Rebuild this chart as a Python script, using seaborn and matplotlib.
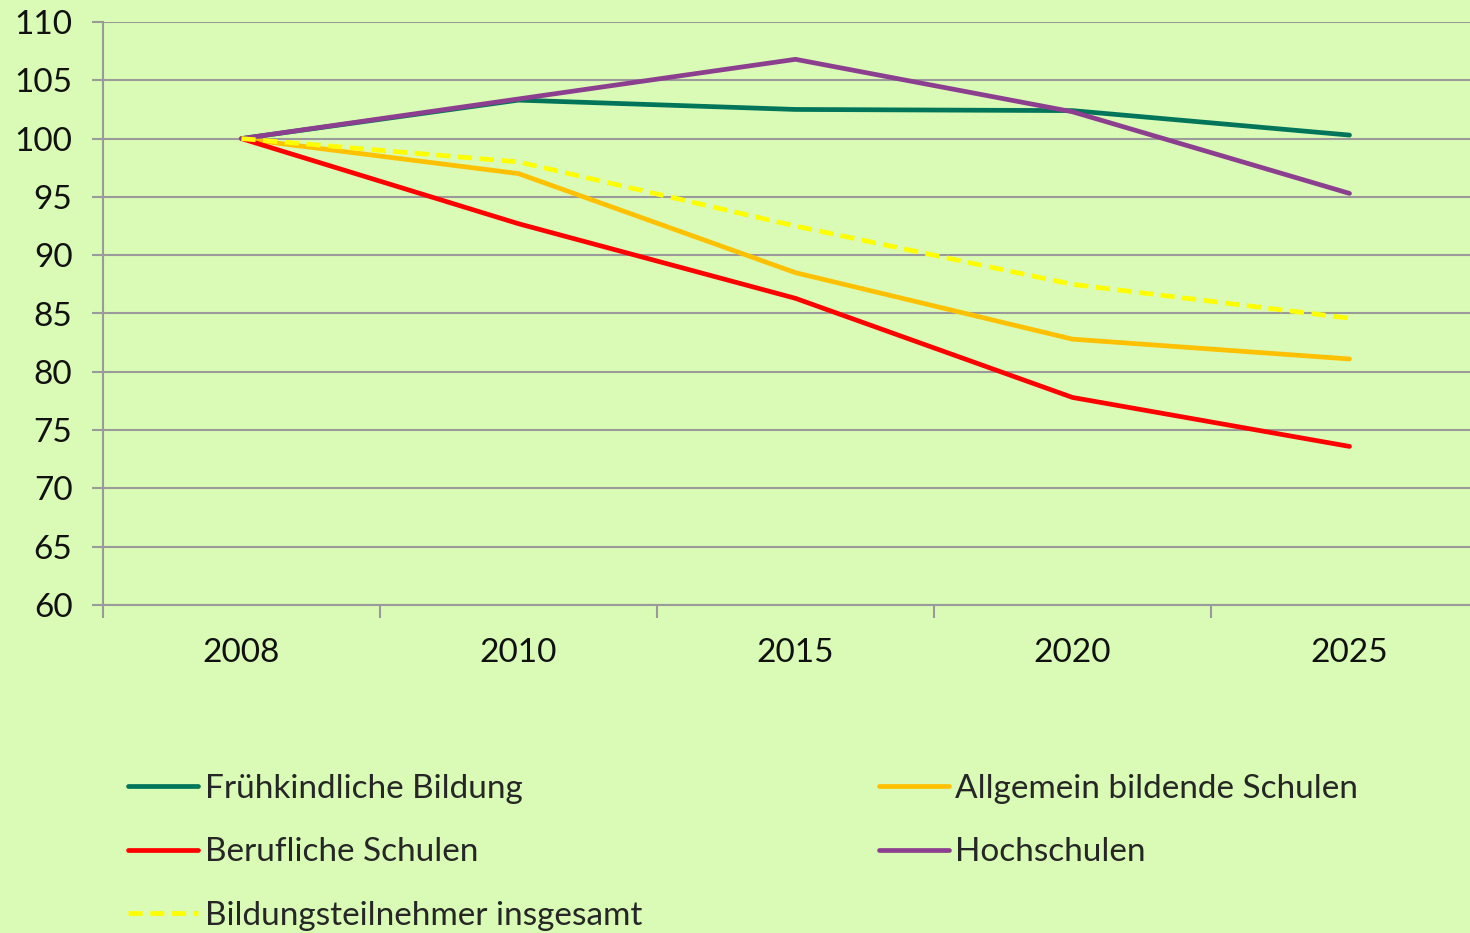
import numpy as np
import pandas as pd
from matplotlib import pyplot as plt
from matplotlib.ticker import FixedLocator
from matplotlib.lines import Line2D
import seaborn as sns

# Werte (Index 2008 = 100)
years = ['2008', '2010', '2015', '2020', '2025']
fruehkindlich = [100, 103.3, 102.5, 102.4, 100.3]
allgemein = [100, 97.0, 88.5, 82.8, 81.1]
beruflich = [100, 92.7, 86.3, 77.8, 73.6]
hochschulen = [100, 103.4, 106.8, 102.3, 95.3]
insgesamt = [100, 98.0, 92.5, 87.5, 84.6]

names = ['Frühkindliche Bildung', 'Allgemein bildende Schulen', 'Berufliche Schulen',
         'Hochschulen', 'Bildungsteilnehmer insgesamt']
series = [fruehkindlich, allgemein, beruflich, hochschulen, insgesamt]
colors = ['#00755a', '#ffc000', '#ff0000', '#8b3f8e', '#ffff00']

rows = []
for name, vals in zip(names, series):
    for y, v in zip(years, vals):
        rows.append({'Jahr': y, 'Wert': v, 'Reihe': name})
df = pd.DataFrame(rows)

bg = '#d9fbb5'
sns.set_theme(style='white')
plt.rcParams['font.family'] = ['Lato', 'DejaVu Sans']

fig = plt.figure(figsize=(14.7, 9.33), dpi=100, facecolor=bg)
ax = fig.add_axes([103 / 1470, 1 - 605 / 933, (1488 - 103) / 1470, (605 - 22) / 933])
ax.set_facecolor(bg)

dash = (3, 1.6)
sns.lineplot(data=df, x='Jahr', y='Wert', hue='Reihe', style='Reihe',
             hue_order=names, style_order=names,
             palette=dict(zip(names, colors)),
             dashes={n: dash if n == 'Bildungsteilnehmer insgesamt' else '' for n in names},
             linewidth=3.4, ax=ax, legend=False, sort=False)

ax.set_xlim(-0.5, 4.5)
ax.set_ylim(60, 110)
ax.set_yticks(np.arange(60, 111, 5))
ax.yaxis.grid(True, color='#9a9a9a', linewidth=1.5)
ax.set_axisbelow(True)
for s in ['top', 'right']:
    ax.spines[s].set_visible(False)
for s in ['left', 'bottom']:
    ax.spines[s].set_color('#9a9a9a')
    ax.spines[s].set_linewidth(1.5)

ax.set_xticks(range(len(years)))
ax.set_xticklabels(years)
ax.xaxis.set_minor_locator(FixedLocator(np.arange(-0.5, 4.6, 1)))
ax.tick_params(axis='x', which='major', length=0, pad=24, labelsize=24, labelcolor='#111111')
ax.tick_params(axis='x', which='minor', length=9, width=1.5, color='#9a9a9a', direction='out', bottom=True)
ax.tick_params(axis='y', length=8, width=1.5, color='#9a9a9a', direction='out', left=True,
               pad=14, labelsize=24, labelcolor='#111111')
ax.set_xlabel('')
ax.set_ylabel('')

# Legende
handles = {}
for n, c in zip(names, colors):
    ls = (0, dash) if n == 'Bildungsteilnehmer insgesamt' else '-'
    handles[n] = Line2D([], [], color=c, linewidth=3.4, linestyle=ls)
order = ['Frühkindliche Bildung', 'Berufliche Schulen', 'Bildungsteilnehmer insgesamt',
         'Allgemein bildende Schulen', 'Hochschulen']
fig.legend([handles[n] for n in order], order, ncol=2, frameon=False,
           loc='upper left', bbox_to_anchor=(128 / 1470, 1 - 774 / 933),
           fontsize=24, handlelength=2.1, handletextpad=0.2,
           columnspacing=7.1, labelspacing=1.0, borderaxespad=0, borderpad=0)

fig.savefig('out.png', dpi=100, facecolor=bg)
